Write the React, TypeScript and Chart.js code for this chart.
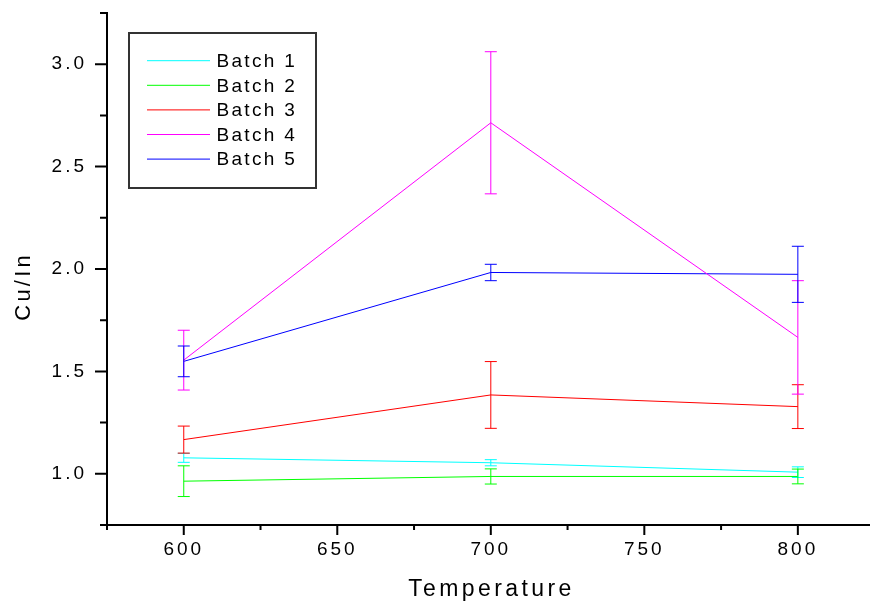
import React, { useEffect, useRef } from 'react';
import { Chart, registerables } from 'chart.js';

Chart.register(...registerables);

// ---- data ----
const temperatures = [600, 700, 800];
const seriesNames = ['Batch 1', 'Batch 2', 'Batch 3', 'Batch 4', 'Batch 5'];
const batch1 = [1.078, 1.054, 1.008];
const batch1Err = [0.022, 0.015, 0.026];
const batch2 = [0.964, 0.987, 0.987];
const batch2Err = [0.075, 0.037, 0.036];
const batch3 = [1.167, 1.385, 1.328];
const batch3Err = [0.066, 0.163, 0.107];
const batch4 = [1.555, 2.714, 1.666];
const batch4Err = [0.146, 0.347, 0.277];
const batch5 = [1.549, 1.983, 1.974];
const batch5Err = [0.075, 0.04, 0.137];
const seriesColors = ['#00FFFF', '#00FF00', '#FF0000', '#FF00FF', '#0000FF'];

const xMajorTicks = [600, 650, 700, 750, 800];
const xMinorTicks = [575, 625, 675, 725, 775, 825];
const yMajorTicks = [1.0, 1.5, 2.0, 2.5, 3.0];
const yMinorTicks = [0.75, 1.25, 1.75, 2.25, 2.75, 3.25];

const xTitle = 'Temperature';
const yTitle = 'Cu/In';

const FONT = '"Liberation Sans", Arial, sans-serif';

const allValues = [batch1, batch2, batch3, batch4, batch5];
const allErrors = [batch1Err, batch2Err, batch3Err, batch4Err, batch5Err];

const styling = {
  id: 'styling',
  beforeDraw(chart: any) {
    const ctx = chart.ctx;
    ctx.save();
    ctx.fillStyle = '#ffffff';
    ctx.fillRect(0, 0, chart.width, chart.height);
    ctx.restore();
    ctx.letterSpacing = '3px';
  },
  afterDatasetsDraw(chart: any) {
    const ctx = chart.ctx;
    const xs = chart.scales.x;
    const ys = chart.scales.y;
    ctx.save();
    ctx.lineWidth = 1;
    allValues.forEach((vals, i) => {
      ctx.strokeStyle = seriesColors[i];
      vals.forEach((v, j) => {
        const e = allErrors[i][j];
        const px = xs.getPixelForValue(temperatures[j]);
        const top = ys.getPixelForValue(v + e);
        const bot = ys.getPixelForValue(v - e);
        ctx.beginPath();
        ctx.moveTo(px, top);
        ctx.lineTo(px, bot);
        ctx.moveTo(px - 6, top);
        ctx.lineTo(px + 6, top);
        ctx.moveTo(px - 6, bot);
        ctx.lineTo(px + 6, bot);
        ctx.stroke();
      });
    });
    ctx.restore();
  },
  afterDraw(chart: any) {
    const ctx = chart.ctx;
    const xs = chart.scales.x;
    const ys = chart.scales.y;
    const area = chart.chartArea;
    ctx.save();
    // tick marks
    ctx.strokeStyle = '#000';
    ctx.lineWidth = 2;
    ctx.beginPath();
    xMajorTicks.forEach((v) => {
      const p = xs.getPixelForValue(v);
      ctx.moveTo(p, area.bottom);
      ctx.lineTo(p, area.bottom + 10);
    });
    xMinorTicks.forEach((v) => {
      const p = xs.getPixelForValue(v);
      ctx.moveTo(p, area.bottom);
      ctx.lineTo(p, area.bottom + 5);
    });
    yMajorTicks.forEach((v) => {
      const p = ys.getPixelForValue(v);
      ctx.moveTo(area.left, p);
      ctx.lineTo(area.left - 12, p);
    });
    yMinorTicks.forEach((v) => {
      const p = ys.getPixelForValue(v);
      ctx.moveTo(area.left, p);
      ctx.lineTo(area.left - 7, p);
    });
    ctx.stroke();

    // axis titles
    ctx.fillStyle = '#000';
    ctx.font = `23px ${FONT}`;
    ctx.letterSpacing = '3.4px';
    ctx.textAlign = 'center';
    ctx.textBaseline = 'middle';
    ctx.fillText(xTitle, 491.4, 590);

    ctx.save();
    ctx.font = `22px ${FONT}`;
    ctx.letterSpacing = '3.2px';
    ctx.translate(24, 286.4);
    ctx.rotate(-Math.PI / 2);
    ctx.fillText(yTitle, 0, 0);
    ctx.restore();

    // legend
    ctx.strokeStyle = '#333';
    ctx.lineWidth = 2;
    ctx.strokeRect(129, 33, 187, 155);
    ctx.font = `19px ${FONT}`;
    ctx.letterSpacing = '2.3px';
    ctx.textAlign = 'left';
    seriesNames.forEach((name, i) => {
      const y = 60.7 + i * 24.6;
      ctx.strokeStyle = seriesColors[i];
      ctx.lineWidth = 1;
      ctx.beginPath();
      ctx.moveTo(147, y);
      ctx.lineTo(210, y);
      ctx.stroke();
      ctx.fillStyle = '#000';
      ctx.fillText(name, 216.5, y + 1);
    });
    ctx.restore();
  },
};

export default function App() {
  const ref = useRef<HTMLCanvasElement | null>(null);
  useEffect(() => {
    if (!ref.current) return;
    const datasets = seriesNames.map((name, i) => ({
      label: name,
      data: temperatures.map((t, j) => ({ x: t, y: allValues[i][j] })),
      borderColor: seriesColors[i],
      backgroundColor: seriesColors[i],
      borderWidth: 1,
      pointRadius: 0,
      tension: 0,
      fill: false,
    }));
    const chart = new Chart(ref.current, {
      type: 'line',
      data: { datasets },
      options: {
        animation: false,
        responsive: false,
        devicePixelRatio: 1,
        layout: { padding: { top: 13, left: 0, right: 0, bottom: 0 } },
        plugins: { legend: { display: false }, tooltip: { enabled: false } },
        scales: {
          x: {
            type: 'linear',
            min: 575,
            max: 823.5,
            afterBuildTicks: (s: any) => {
              s.ticks = xMajorTicks.map((v) => ({ value: v }));
            },
            afterFit: (s: any) => {
              s.height = 80;
              s.paddingLeft = 0;
              s.paddingRight = 0;
              s.paddingTop = 0;
              s.paddingBottom = 0;
            },
            ticks: {
              color: '#000',
              font: { family: FONT, size: 19 },
              padding: 13,
              maxRotation: 0,
              autoSkip: false,
              callback: (v: any) => String(v),
            },
            grid: { display: false, drawTicks: false },
            border: { display: true, color: '#000', width: 2 },
          },
          y: {
            type: 'linear',
            min: 0.75,
            max: 3.25,
            afterBuildTicks: (s: any) => {
              s.ticks = yMajorTicks.map((v) => ({ value: v }));
            },
            afterFit: (s: any) => {
              s.width = 107;
              s.paddingLeft = 0;
              s.paddingRight = 0;
              s.paddingTop = 0;
              s.paddingBottom = 0;
            },
            ticks: {
              color: '#000',
              font: { family: FONT, size: 19 },
              padding: 20,
              autoSkip: false,
              callback: (v: any) => Number(v).toFixed(1),
            },
            grid: { display: false, drawTicks: false },
            border: { display: true, color: '#000', width: 2 },
          },
        },
      },
      plugins: [styling],
    });
    return () => chart.destroy();
  }, []);
  return (
    <div style={{ position: 'absolute', left: 0, top: 0, width: 870, height: 605 }}>
      <canvas ref={ref} width={870} height={605} />
    </div>
  );
}
